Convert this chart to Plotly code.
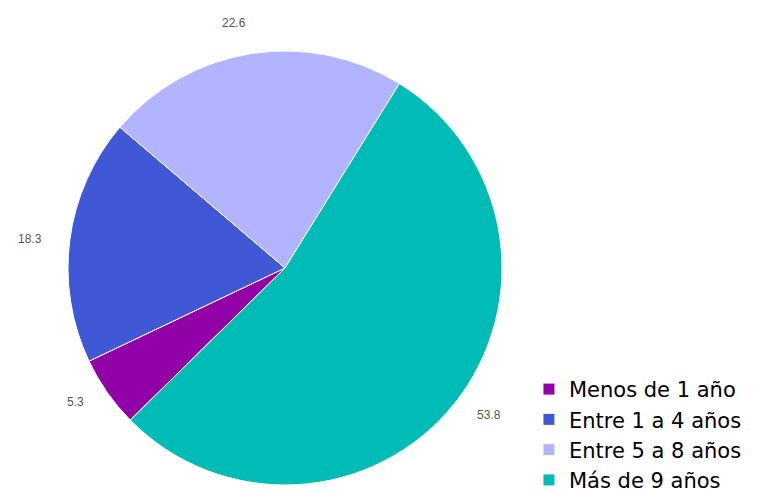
import numpy as np
import plotly.graph_objects as go

# Años de antigüedad (%)
categorias = ["Menos de 1 año", "Entre 1 a 4 años", "Entre 5 a 8 años", "Más de 9 años"]
valores = [5.3, 18.3, 22.6, 53.8]
colores = ["#9200A8", "#4058D6", "#B2B4FF", "#00BBB6"]

W, H = 760, 494
rotacion = 225.5  # first slice starts here, clockwise from 12 o'clock

# pie placement (pixels)
cx, cy, r = 285, 268, 217
dom_x = [(cx - r) / W, (cx + r) / W]
dom_y = [(H - cy - r) / H, (H - cy + r) / H]

fig = go.Figure(
    go.Pie(
        labels=categorias,
        values=valores,
        marker=dict(colors=colores, line=dict(color="white", width=1)),
        sort=False,
        direction="clockwise",
        rotation=rotacion,
        textinfo="none",
        hoverinfo="label+value",
        domain=dict(x=dom_x, y=dom_y),
    )
)

# value labels just outside each slice, anchored away from the pie
total = float(np.sum(valores))
inicio = rotacion + 360 * (np.cumsum(valores) - np.array(valores)) / total
medio = np.deg2rad(inicio + 180 * np.array(valores) / total)
r_lab = r * 1.12
for v, a in zip(valores, medio):
    s, c = np.sin(a), -np.cos(a)
    px = cx + r_lab * s
    py = cy + r_lab * c
    fig.add_annotation(
        x=px / W, y=1 - py / H, xref="paper", yref="paper",
        text=f"{v:.1f}", showarrow=False,
        xanchor="left" if s > 0 else "right",
        yanchor="middle", yshift=5 if abs(c) > 0.5 else -3,
        font=dict(family="Liberation Sans, Arial", size=12, color="#555555"),
    )

fig.update_layout(
    width=W, height=H,
    margin=dict(l=0, r=0, t=0, b=0, autoexpand=False),
    paper_bgcolor="white",
    plot_bgcolor="white",
    showlegend=True,
    legend=dict(
        x=0.696, y=-0.014, xanchor="left", yanchor="bottom",
        font=dict(family="DejaVu Sans, Noto Sans", size=21, color="black"),
        itemwidth=30, tracegroupgap=0,
        bgcolor="rgba(0,0,0,0)",
    ),
)

fig.write_html("out.html")
